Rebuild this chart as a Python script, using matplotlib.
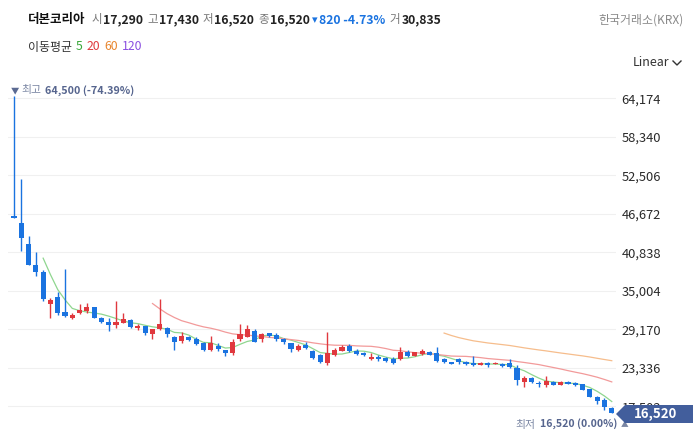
import numpy as np
import pandas as pd
import matplotlib
matplotlib.use("Agg")
import matplotlib.pyplot as plt
from matplotlib.patches import Polygon
from matplotlib.lines import Line2D

plt.rcParams['font.family'] = ['Noto Sans CJK KR', 'DejaVu Sans']

# daily candles (KRW)
opens = [46340, 45330, 42100, 38920, 37860, 33010, 34070, 31800, 30940, 31600,
         31990, 32510, 30840, 30330, 29870, 30180, 30590, 29420, 29680, 28470,
         29180, 29420, 27960, 27360, 27960, 27660, 27150, 26040, 26690, 26040,
         25630, 27660, 28060, 28970, 27660, 28570, 28310, 27710, 27050, 26040,
         26800, 25890, 25280, 24030, 25280, 25940, 26650, 25940, 25630, 24630,
         25030, 24880, 24630, 24630, 25690, 25180, 25440, 25740, 25540, 24630,
         24180, 24630, 24220, 24120, 23770, 24120, 23920, 23970, 24030, 23270,
         21240, 21750, 21090, 20740, 21240, 20740, 21240, 21090, 20890, 20090,
         18970, 18460, 17290]
highs = [64500, 51900, 43310, 40840, 38160, 33870, 34780, 38310, 31690, 33010,
         33210, 32600, 31090, 30840, 33510, 31600, 30740, 29980, 29700, 29220,
         33720, 29570, 28160, 28810, 28160, 28010, 27250, 28160, 27050, 26040,
         27660, 29980, 29830, 29220, 28660, 28660, 28570, 27810, 27150, 27000,
         27300, 26040, 25440, 28810, 26340, 26800, 26950, 26190, 25800, 25630,
         25280, 25030, 25030, 26540, 26040, 25790, 26190, 25890, 26450, 24880,
         24230, 24880, 24300, 25130, 24200, 24200, 24220, 24050, 24630, 23770,
         22100, 21900, 21300, 22150, 21300, 21300, 21300, 21150, 20950, 20150,
         19000, 18720, 17430]
lows = [46000, 41090, 38900, 37250, 33510, 30940, 31300, 31090, 30790, 31500,
        31690, 30940, 30180, 28920, 29330, 30180, 29420, 29070, 28310, 27750,
        29100, 28050, 26040, 27150, 27330, 26740, 25840, 25930, 25930, 25170,
        25330, 27450, 27960, 27300, 27200, 27960, 27450, 26990, 25780, 25840,
        26240, 24630, 24120, 23770, 25130, 25890, 25690, 25280, 25180, 24600,
        24370, 24270, 23920, 24530, 25030, 25130, 25330, 25280, 24270, 24030,
        23920, 23920, 23770, 23620, 23700, 23510, 23870, 23500, 23270, 20740,
        20480, 21090, 20480, 20480, 20700, 20700, 20850, 20650, 19950, 18950,
        17860, 16950, 16520]
closes = [46040, 43060, 38970, 37900, 33810, 33620, 31690, 31200, 31390, 32100,
          32600, 30940, 30330, 29870, 30330, 30740, 29570, 29680, 28570, 29220,
          29980, 28470, 27300, 28160, 27560, 26900, 26040, 27050, 26150, 25540,
          27300, 28470, 29220, 27300, 28470, 28160, 27710, 27200, 26150, 26690,
          26390, 24780, 24270, 25540, 26040, 26540, 25940, 25440, 25330, 25030,
          24630, 24420, 24120, 25790, 25130, 25690, 25890, 25330, 24420, 24180,
          23970, 24180, 23870, 23720, 24120, 23720, 24120, 23570, 23520, 21500,
          21750, 21240, 20890, 21300, 20740, 21240, 20890, 20690, 19980, 18970,
          18360, 17340, 16520]
volume_last = 30835

y_ticks = [64174, 58340, 52506, 46672, 40838, 35004, 29170, 23336, 17502]
ma_periods = [5, 20, 60, 120]
ma_colors = ['#8fd68f', '#f29a9a', '#f6bd8c', '#b59ae8']
legend_colors = ['#3aa83a', '#e03a3e', '#e8862e', '#8a4fe0']

UP = '#e0383e'
DOWN = '#1a73e0'

W, H = 693, 441
fig = plt.figure(figsize=(W / 100, H / 100), dpi=100)
renderer = fig.canvas.get_renderer()


def fx(x):
    return x / W


def fy(y):
    return 1 - y / H


def put_row(x0, y, pieces):
    # pieces: (text, color, size, weight, gap_after_px)
    x = x0
    for s, col, size, wt, gap in pieces:
        t = fig.text(fx(x), fy(y), s, fontsize=size, color=col, fontweight=wt, va='center')
        x += t.get_window_extent(renderer).width + gap
    return x


# plot area in pixels
left, right, top, bottom = 8, 616, 78, 432
ax = fig.add_axes([fx(left), fy(bottom), (right - left) / W, (bottom - top) / H])

df = pd.DataFrame({'o': opens, 'h': highs, 'l': lows, 'c': closes})
x = np.arange(len(df))
up = df.c >= df.o
colors = np.where(up, UP, DOWN)

ax.vlines(x, df.l, df.h, colors=colors, lw=1.0, zorder=3)
body = (df.c - df.o).abs().clip(lower=120)
ax.bar(x, body, bottom=np.minimum(df.o, df.c), width=0.7, color=colors,
       linewidth=0, zorder=4)

for p, col in zip(ma_periods, ma_colors):
    ma = df.c.rolling(p).mean()
    if ma.notna().any():
        ax.plot(x, ma, color=col, lw=0.9, zorder=2)

ax.set_xlim(-0.82, 82.58)
ax.set_ylim(13618, 67250)
ax.set_yticks(y_ticks)
ax.set_yticklabels([f'{v:,}' for v in y_ticks])
ax.yaxis.tick_right()
ax.tick_params(axis='y', length=0, pad=4, labelsize=9.3, labelcolor='#2a2a2a')
ax.set_xticks([])
ax.grid(axis='y', color='#f0f0f0', lw=0.8, zorder=0)
for s in ax.spines.values():
    s.set_visible(False)

# header
last = df.iloc[-1]
prev_close = df.c.iloc[-2]
chg = last.c - prev_close
pct = chg / prev_close * 100
LBL, NUM = '#777777', '#222222'
put_row(28, 20, [
    ('더본코리아', '#111111', 9, 'bold', 6),
    ('시', LBL, 8.3, 'normal', 1), (f'{last.o:,}', NUM, 8.8, 'semibold', 4),
    ('고', LBL, 8.3, 'normal', 1), (f'{last.h:,}', NUM, 8.8, 'semibold', 4),
    ('저', LBL, 8.3, 'normal', 1), (f'{last.l:,}', NUM, 8.8, 'semibold', 4),
    ('종', LBL, 8.3, 'normal', 1), (f'{last.c:,}', NUM, 8.8, 'semibold', 2),
    ('▾', DOWN, 8, 'normal', 2), (f'{abs(chg):,} {pct:.2f}%', DOWN, 8.8, 'semibold', 4),
    ('거', LBL, 8.3, 'normal', 1), (f'{volume_last:,}', NUM, 8.8, 'semibold', 0),
])
fig.text(fx(684), fy(20), '한국거래소(KRX)', fontsize=8.6, color='#8a8a8a', va='center', ha='right')

leg = [('이동평균', '#333333', 8.6, 'normal', 4)]
leg += [(str(p), col, 8.8, 'normal', 4) for p, col in zip(ma_periods, legend_colors)]
put_row(28, 47, leg)

fig.text(fx(633), fy(63), 'Linear', fontsize=9, color='#333333', va='center')
fig.add_artist(Line2D([fx(673), fx(677), fx(681)], [fy(61), fy(65), fy(61)],
                      color='#333333', lw=1.0, transform=fig.transFigure))

# highest / lowest markers
hi = df.h.max()
hi_pct = (last.c - hi) / hi * 100
put_row(11, 90.5, [
    ('▼', '#5b6a92', 6, 'normal', 2),
    ('최고', '#7a86a3', 7.8, 'normal', 4),
    (f'{hi:,} ({hi_pct:.2f}%)', '#56658e', 7.8, 'semibold', 0),
])

lo = df.l.min()
lo_pct = (last.c - lo) / lo * 100
put_row(515, 425, [
    ('최저', '#7a86a3', 7.8, 'normal', 5),
    (f'{lo:,} ({lo_pct:.2f}%)', '#56658e', 7.6, 'semibold', 3),
    ('▲', '#7a86a3', 5.5, 'normal', 0),
])

# current price badge
badge = Polygon([(fx(616), fy(414)), (fx(625), fy(405)), (fx(693), fy(405)),
                 (fx(693), fy(423)), (fx(625), fy(423))], closed=True,
                facecolor='#425e9c', edgecolor='none', transform=fig.transFigure, zorder=10)
fig.add_artist(badge)
fig.text(fx(656), fy(414), f'{last.c:,}', fontsize=9.5, fontweight='bold', color='white',
         ha='center', va='center', zorder=11)

fig.savefig('out.png', dpi=100)
